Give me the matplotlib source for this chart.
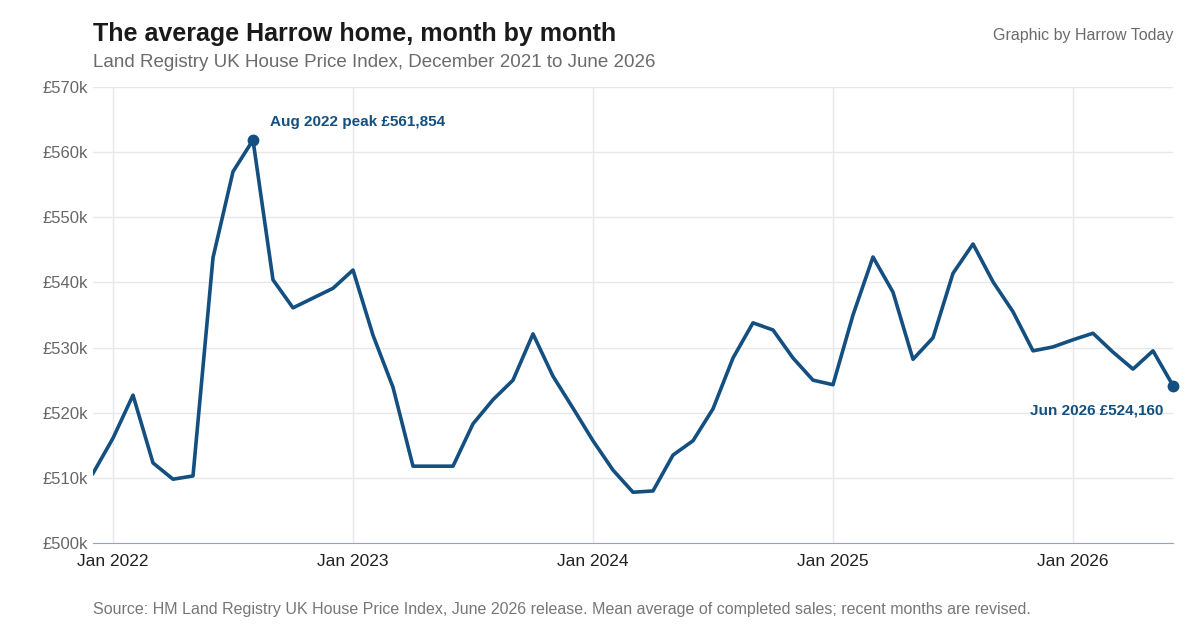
import matplotlib
matplotlib.use("Agg")
import matplotlib.pyplot as plt
import numpy as np
import pandas as pd

plt.rcParams["font.family"] = ["Liberation Sans", "DejaVu Sans"]

months = pd.date_range("2021-12-01", "2026-06-01", freq="MS")
prices = [510.7, 516.1, 522.7, 512.3, 509.8, 510.3, 543.8, 557.0, 561.854, 540.4, 536.1, 537.6,
          539.1, 541.9, 531.9, 523.9, 511.8, 511.8, 511.8, 518.3, 522.0, 525.0, 532.1, 525.6,
          520.7, 515.7, 511.2, 507.8, 508.0, 513.5, 515.7, 520.6, 528.4, 533.8, 532.7, 528.4,
          525.0, 524.3, 535.0, 543.9, 538.5, 528.2, 531.5, 541.4, 545.9, 540.1, 535.5, 529.5,
          530.1, 531.2, 532.2, 529.3, 526.7, 529.5, 524.16]
prices = np.array(prices) * 1000
x = np.arange(len(months))
xtick_pos = [1, 13, 25, 37, 49]
xtick_labels = ["Jan 2022", "Jan 2023", "Jan 2024", "Jan 2025", "Jan 2026"]
yticks = np.arange(500000, 570001, 10000)

col = "#134f80"
fig = plt.figure(figsize=(12, 6.3), dpi=100)
ax = fig.add_axes([0.0775, 0.138, 0.9, 0.724])
ax.plot(x, prices, color=col, lw=2.6, solid_joinstyle="round")
peak = int(np.argmax(prices))
ax.plot([x[peak], x[-1]], [prices[peak], prices[-1]], "o", color=col, ms=7.5, clip_on=False, zorder=5)
ax.annotate(f"Aug 2022 peak £{prices[peak]:,.0f}", (x[peak], prices[peak]), xytext=(12, 10),
            textcoords="offset points", color=col, fontsize=11, fontweight="bold")
ax.annotate(f"Jun 2026 £{prices[-1]:,.0f}", (x[-1], prices[-1]), xytext=(-7, -21),
            textcoords="offset points", color=col, fontsize=11, fontweight="bold", ha="right")

ax.set_xlim(0, len(x) - 1)
ax.set_ylim(500000, 570000)
ax.set_yticks(yticks)
ax.set_yticklabels([f"£{v//1000}k" for v in yticks])
ax.set_xticks(xtick_pos)
ax.set_xticklabels(xtick_labels)
ax.grid(color="#e6e8eb", lw=1)
ax.set_axisbelow(True)
for s in ["top", "right", "left"]:
    ax.spines[s].set_visible(False)
ax.spines["bottom"].set_color("#9aa5b1")
ax.tick_params(axis="y", length=0, labelsize=12, labelcolor="#666666")
ax.tick_params(axis="x", length=0, labelsize=12.5, labelcolor="#222222", pad=8)

fig.text(0.0775, 0.935, "The average Harrow home, month by month", fontsize=18, fontweight="bold", color="#1a1a1a")
fig.text(0.0775, 0.893, "Land Registry UK House Price Index, December 2021 to June 2026", fontsize=13.5, color="#6b6b6b")
fig.text(0.9775, 0.937, "Graphic by Harrow Today", fontsize=11.5, color="#6b6b6b", ha="right")
fig.text(0.0775, 0.025, "Source: HM Land Registry UK House Price Index, June 2026 release. Mean average of completed sales; recent months are revised.",
         fontsize=11.5, color="#777777")
fig.savefig("out.png")
